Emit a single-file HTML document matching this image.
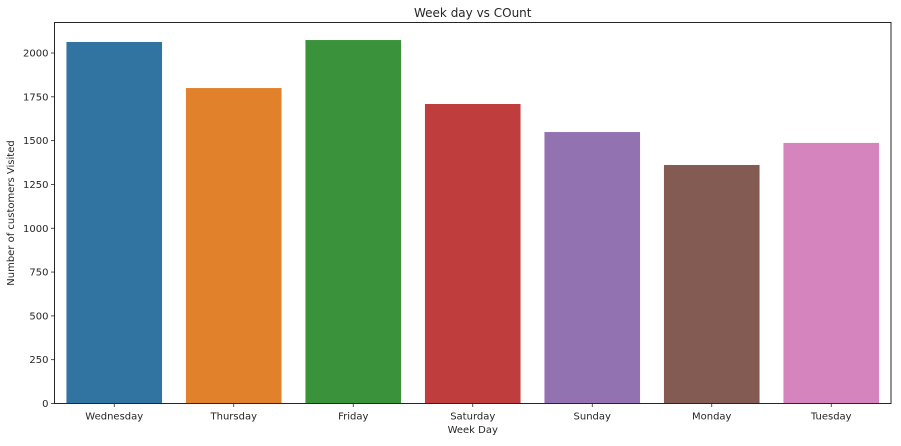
<!DOCTYPE html>
<html><head><meta charset="utf-8"><style>
html,body{margin:0;padding:0;background:#fff;}
svg text{font-family:"DejaVu Sans","Liberation Sans",sans-serif;fill:#262626;}
</style></head><body>
<svg id="chart" width="901" height="441" xmlns="http://www.w3.org/2000/svg">
<rect width="901" height="441" fill="#fff"/>
<g id="bars"></g>
<g id="axes"></g>
</svg>
<script>
const categories = ["Wednesday","Thursday","Friday","Saturday","Sunday","Monday","Tuesday"];
const counts = [2063,1800,2074,1709,1549,1361,1487];
const colors = ["#3274a1","#e1812c","#3a923a","#c03d3e","#9372b2","#845b53","#d684bd"];
const yTicks = [0,250,500,750,1000,1250,1500,1750,2000];

const L=54.5, R=891, T=22.5, B=403.5, yMax=(B-T)/(350.5/2000);
const ns="http://www.w3.org/2000/svg";
function y(v){return B-(v/yMax)*(B-T);}
const band=(R-L)/categories.length;
function xc(i){return L+band*(i+0.5);}
function mk(tag,attrs,parent){const e=document.createElementNS(ns,tag);for(const k in attrs)e.setAttribute(k,attrs[k]);parent.appendChild(e);return e;}
const bars=document.getElementById('bars'), axes=document.getElementById('axes');
categories.forEach((c,i)=>{
  const w=band*0.8;
  const r=mk('rect',{x:xc(i)-w/2,y:y(counts[i]),width:w,height:B-y(counts[i]),fill:colors[i]},bars);
  
  
  const t=mk('line',{x1:xc(i),x2:xc(i),y1:B,y2:B+3.5,stroke:'#262626','stroke-width':0.8},axes);
  const lb=mk('text',{x:xc(i),y:B+16,'text-anchor':'middle','font-size':10},axes);
  lb.textContent=c;
  
  
});
yTicks.forEach(v=>{
  mk('line',{x1:L-3.5,x2:L,y1:y(v),y2:y(v),stroke:'#262626','stroke-width':0.8},axes);
  const lb=mk('text',{x:L-6,y:y(v)+3.5,'text-anchor':'end','font-size':10},axes);
  lb.textContent=v;
  
  
});
const frame=mk('rect',{x:L,y:T,width:R-L,height:B-T,fill:'none',stroke:'#262626','stroke-width':1},axes);


const title=mk('text',{x:(L+R)/2,y:17,'text-anchor':'middle','font-size':12},axes);
title.textContent='Week day vs COunt';


const xt=mk('text',{x:(L+R)/2,y:433,'text-anchor':'middle','font-size':10},axes);
xt.textContent='Week Day';


const yt=mk('text',{x:0,y:0,'text-anchor':'middle','font-size':10,transform:'translate(14,'+((T+B)/2)+') rotate(-90)'},axes);
yt.textContent='Number of customers Visited';


</script>
</body></html>
